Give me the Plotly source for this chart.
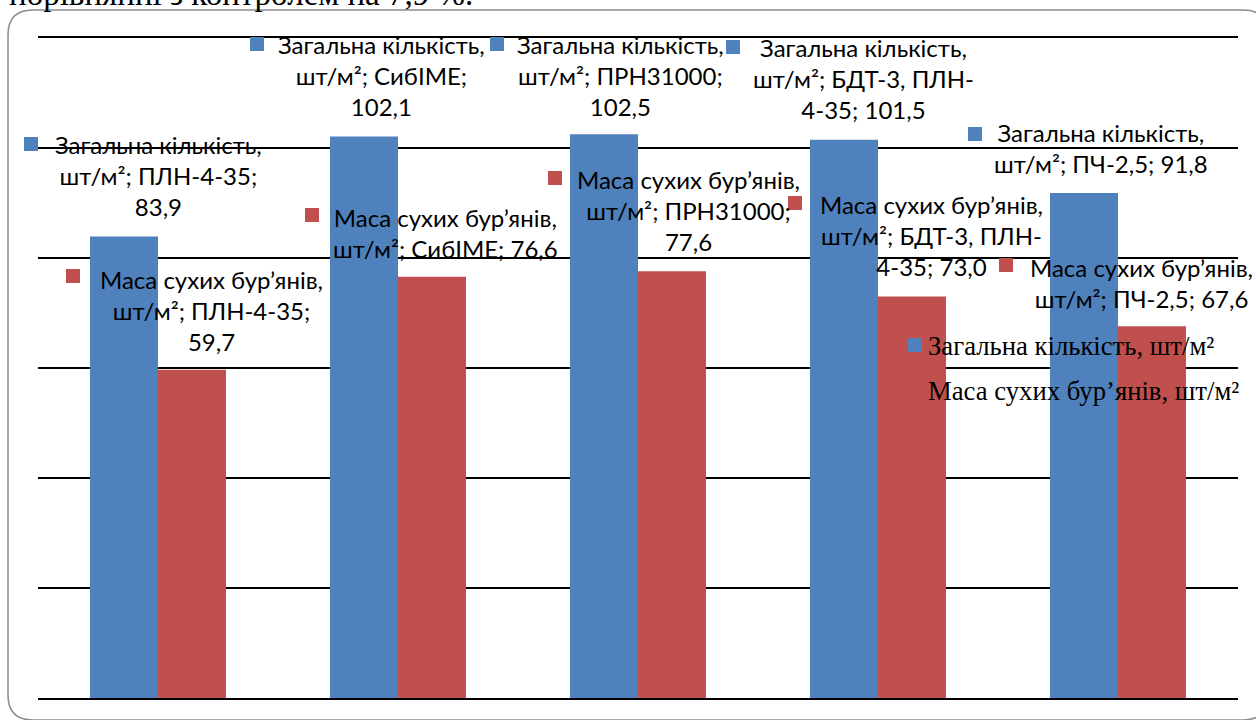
import re
import plotly.graph_objects as go

# ---------------- data ----------------
categories = ["ПЛН-4-35", "СибІМЕ", "ПРН31000", "БДТ-3, ПЛН-4-35", "ПЧ-2,5"]
series_names = ["Загальна кількість, шт/м²", "Маса сухих бур’янів, шт/м²"]
total_count = [83.9, 102.1, 102.5, 101.5, 91.8]
dry_mass = [59.7, 76.6, 77.6, 73.0, 67.6]
y_ticks = [0, 20, 40, 60, 80, 100, 120]
top_text = "порівнянні з контролем на 7,9 %."

colors = ["#4F81BD", "#C0504D"]

# ---------------- layout helpers ----------------
W, H = 1256, 720
L, T, R, B = 38, 38, 18, 22
PW, PH = W - L - R, H - T - B


def px(x):
    return (x - L) / PW


def py(y):
    return (H - B - y) / PH


def fmt(v):
    return f"{v:.1f}".replace(".", ",")


def wrap(s, width=19):
    tokens = re.findall(r"\S+?-(?=\d)|\S+", s)
    lines, cur = [], ""
    for t in tokens:
        if cur == "":
            cand = t
        elif cur.endswith("-"):
            cand = cur + t
        else:
            cand = cur + " " + t
        if len(cand) > width and cur:
            lines.append(cur)
            cur = t
        else:
            cur = cand
    if cur:
        lines.append(cur)
    return lines


def label_text(name, cat, val):
    first, unit = name.split(", ", 1)
    rest = wrap(f"{unit}; {cat}; {fmt(val)}", 19)
    return "<br>".join([first + ","] + rest)


fig = go.Figure()
for name, vals, col in zip(series_names, [total_count, dry_mass], colors):
    fig.add_trace(go.Bar(x=categories, y=vals, name=name, marker=dict(color=col, line=dict(width=0)),
                         showlegend=False))

# label placement (pixel positions): center x, first-line center y, key x0, key y0
label_pos = [
    [(158, 145, 24, 137), (381, 45, 250, 37), (620, 45, 490, 37), (863, 48, 726, 40), (1101, 133, 968, 127)],
    [(211, 280, 66, 269), (445, 218, 305, 208), (688, 180, 548, 171), (931, 205, 788, 196), (1141, 268, 999, 258)],
]
LABEL_FONT = 24
LINE_H = LABEL_FONT * 1.3
KEY = 14

annotations = []
shapes = []
for si, (name, vals) in enumerate(zip(series_names, [total_count, dry_mass])):
    for ci, (cat, v) in enumerate(zip(categories, vals)):
        cx, cy, kx, ky = label_pos[si][ci]
        annotations.append(dict(
            xref="paper", yref="paper", x=px(cx), y=py(cy - LINE_H / 2 - 1),
            xanchor="center", yanchor="top", align="center", showarrow=False,
            text=label_text(name, cat, v),
            font=dict(family="Lato, Open Sans, sans-serif", size=LABEL_FONT, color="#000000"),
        ))
        shapes.append(dict(type="rect", xref="paper", yref="paper",
                           x0=px(kx), x1=px(kx + KEY), y0=py(ky + KEY), y1=py(ky),
                           fillcolor=colors[si], line=dict(width=0)))

# legend-like text block
shapes.append(dict(type="rect", xref="paper", yref="paper",
                   x0=px(908), x1=px(922), y0=py(352), y1=py(338),
                   fillcolor=colors[0], line=dict(width=0)))
for name, yc in zip(series_names, [346, 391]):
    annotations.append(dict(
        xref="paper", yref="paper", x=px(926), y=py(yc), xanchor="left", yanchor="middle",
        showarrow=False, text=name,
        font=dict(family="Liberation Serif, Times New Roman, serif", size=26.7, color="#000000"),
    ))

# cut-off text at the very top
annotations.append(dict(
    xref="paper", yref="paper", x=px(7), y=py(14), xanchor="left", yanchor="bottom",
    showarrow=False, text=top_text,
    font=dict(family="Liberation Serif, Times New Roman, serif", size=33, color="#000000"),
))

# rounded border
x0, y0, x1, y1, r = 8, 10, 1268, 720, 25


def P(x, y):
    return f"{px(x):.5f},{py(y):.5f}"


path = (f"M {P(x0 + r, y0)} L {P(x1 - r, y0)} Q {P(x1, y0)} {P(x1, y0 + r)} "
        f"L {P(x1, y1 - r)} Q {P(x1, y1)} {P(x1 - r, y1)} "
        f"L {P(x0 + r, y1)} Q {P(x0, y1)} {P(x0, y1 - r)} "
        f"L {P(x0, y0 + r)} Q {P(x0, y0)} {P(x0 + r, y0)} Z")
shapes.append(dict(type="path", xref="paper", yref="paper", path=path,
                   line=dict(color="#8c8c8c", width=1.5), layer="below"))

fig.update_layout(
    width=W, height=H,
    margin=dict(l=L, r=R, t=T, b=B, pad=0),
    paper_bgcolor="white", plot_bgcolor="white",
    barmode="group", bargap=0.4333, bargroupgap=0,
    xaxis=dict(showticklabels=False, showgrid=False, zeroline=False, showline=True,
               linecolor="#000000", linewidth=1.5, mirror=True, ticks=""),
    yaxis=dict(range=[0, 120], tickvals=y_ticks, showticklabels=False, showgrid=True,
               gridcolor="#000000", gridwidth=1.5, zeroline=False, showline=False, ticks=""),
    annotations=annotations,
    shapes=shapes,
    showlegend=False,
)

fig.write_html("out.html", config={"displayModeBar": False})
